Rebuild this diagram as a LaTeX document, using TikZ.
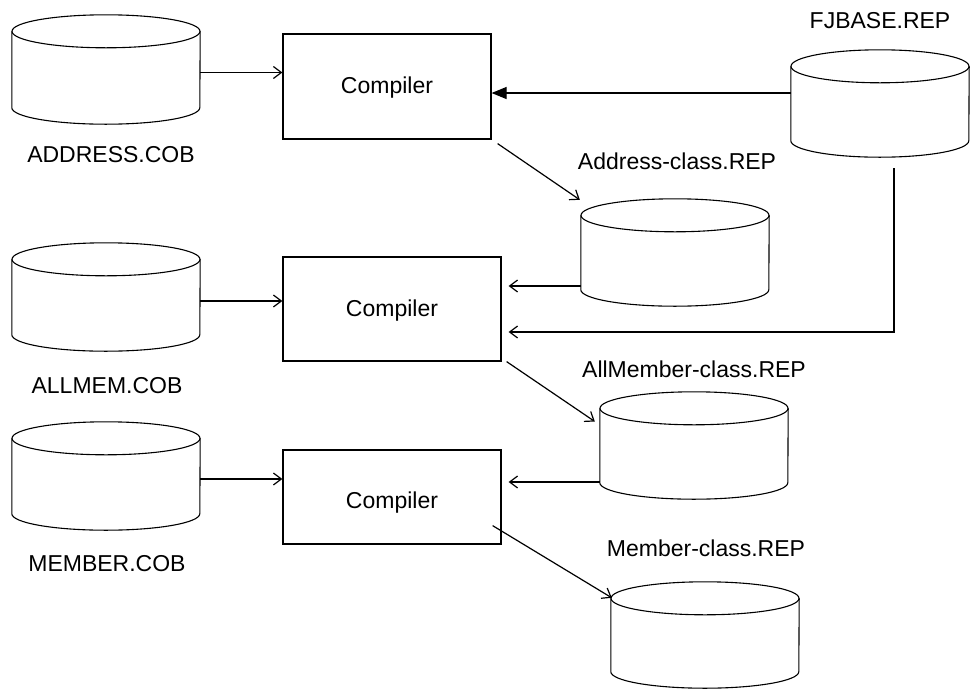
\documentclass[tikz,border=0pt]{standalone}
\usepackage{fontspec}
\setmainfont{Liberation Sans}
\usetikzlibrary{arrows.meta,calc}
\newcommand\dbcyl[6]{% name, cx, cy, half width, height, ry
  \node[inner sep=0pt, minimum width=2*#4 pt, minimum height=#5 pt] (#1) at (#2,#3) {};
  \draw[dbline] ([yshift=-#6pt]#1.north) ellipse[x radius=#4pt, y radius=#6pt];
  \draw[dbline] ([yshift=-#6pt]#1.north west) -- ([yshift=#6pt]#1.south west)
     arc[start angle=180, end angle=360, x radius=#4pt, y radius=#6pt]
     -- ([yshift=-#6pt]#1.north east);
}
\begin{document}
\begin{tikzpicture}[x=1pt,y=-1pt,
  dbline/.style={line width=1.1pt, black},
  compbox/.style={draw, line width=1.2pt, inner sep=0pt, font=\fontsize{23}{27}\selectfont},
  lbl/.style={inner sep=0pt, font=\fontsize{23}{27}\selectfont},
  conn/.style={line width=1.2pt, -{Straight Barb[length=8pt,width=12pt,line width=1.2pt]}},
  fconn/.style={line width=1.2pt, -{Triangle[length=15pt,width=12pt]}}]
\useasboundingbox (0,0) rectangle (970,689);

% cylinders
\dbcyl{addr}{106}{69.5}{94}{109}{16.5}
\dbcyl{allmem}{106}{297}{94}{108}{16.5}
\dbcyl{member}{106}{476}{94}{108}{16.5}
\dbcyl{fj}{880}{103.5}{89}{107}{16.5}
\dbcyl{ac}{675}{252.5}{94}{107}{16.5}
\dbcyl{am}{694}{445.5}{94}{107}{16.5}
\dbcyl{mc}{705}{635}{94}{106}{16.5}

% labels
\node[lbl] (laddr) at (111,155) {ADDRESS.COB};
\node[lbl] (lallmem) at (107,386) {ALLMEM.COB};
\node[lbl] (lmember) at (107,564) {MEMBER.COB};
\node[lbl] (lfj) at (880,21) {FJBASE.REP};
\node[lbl] (lac) at (677,161) {Address-class.REP};
\node[lbl] (lam) at (694,369) {AllMember-class.REP};
\node[lbl] (lmc) at (706,548) {Member-class.REP};

% compiler boxes
\node[compbox, minimum width=208pt, minimum height=105pt] (box1) at (387,86.5) {};
\node[lbl] (c1) at ([yshift=-1pt]box1.center) {Compiler};
\node[compbox, minimum width=218pt, minimum height=104pt] (box2) at (392,309) {};
\node[lbl] (c2) at ([yshift=-2pt]box2.center) {Compiler};
\node[compbox, minimum width=218pt, minimum height=94pt] (box3) at (392,497) {};
\node[lbl] (c3) at ([yshift=-6pt]box3.center) {Compiler};

% inputs
\draw[conn] ([yshift=-3pt]addr.east) -- ([yshift=-3pt]addr.east -| box1.west);
\draw[conn] ([yshift=-4pt]allmem.east) -- ([yshift=-4pt]allmem.east -| box2.west);
\draw[conn] ([yshift=-3pt]member.east) -- ([yshift=-3pt]member.east -| box3.west);

% FJBASE
\draw[fconn] ([yshift=10.5pt]fj.west) -- ([yshift=10.5pt]fj.west -| box1.east);
\coordinate (fjstart) at ([shift={(14pt,-11pt)}]fj.south);
\coordinate (fjend) at ([yshift=-23pt]box2.east);
\draw[conn, shorten >=7pt] (fjstart) |- (fjend);

% outputs
\draw[conn] ([shift={(6pt,-4pt)}]box1.south east) -- ([shift={(-1pt,-1pt)}]ac.north west);
\draw[conn] ([shift={(5pt,0pt)}]box2.south east) -- ([shift={(-5pt,24pt)}]am.west);
\draw[conn] ([shift={(-9pt,19pt)}]box3.south east) -- ([shift={(1pt,-16pt)}]mc.north west);

% class repositories to compilers
\draw[conn, shorten >=7pt] ([yshift=-33.5pt]ac.west) -- ([yshift=-33.5pt]ac.west -| box2.east);
\draw[conn, shorten >=7pt] ([yshift=-36.5pt]am.west) -- ([yshift=-36.5pt]am.west -| box3.east);
\end{tikzpicture}
\end{document}
